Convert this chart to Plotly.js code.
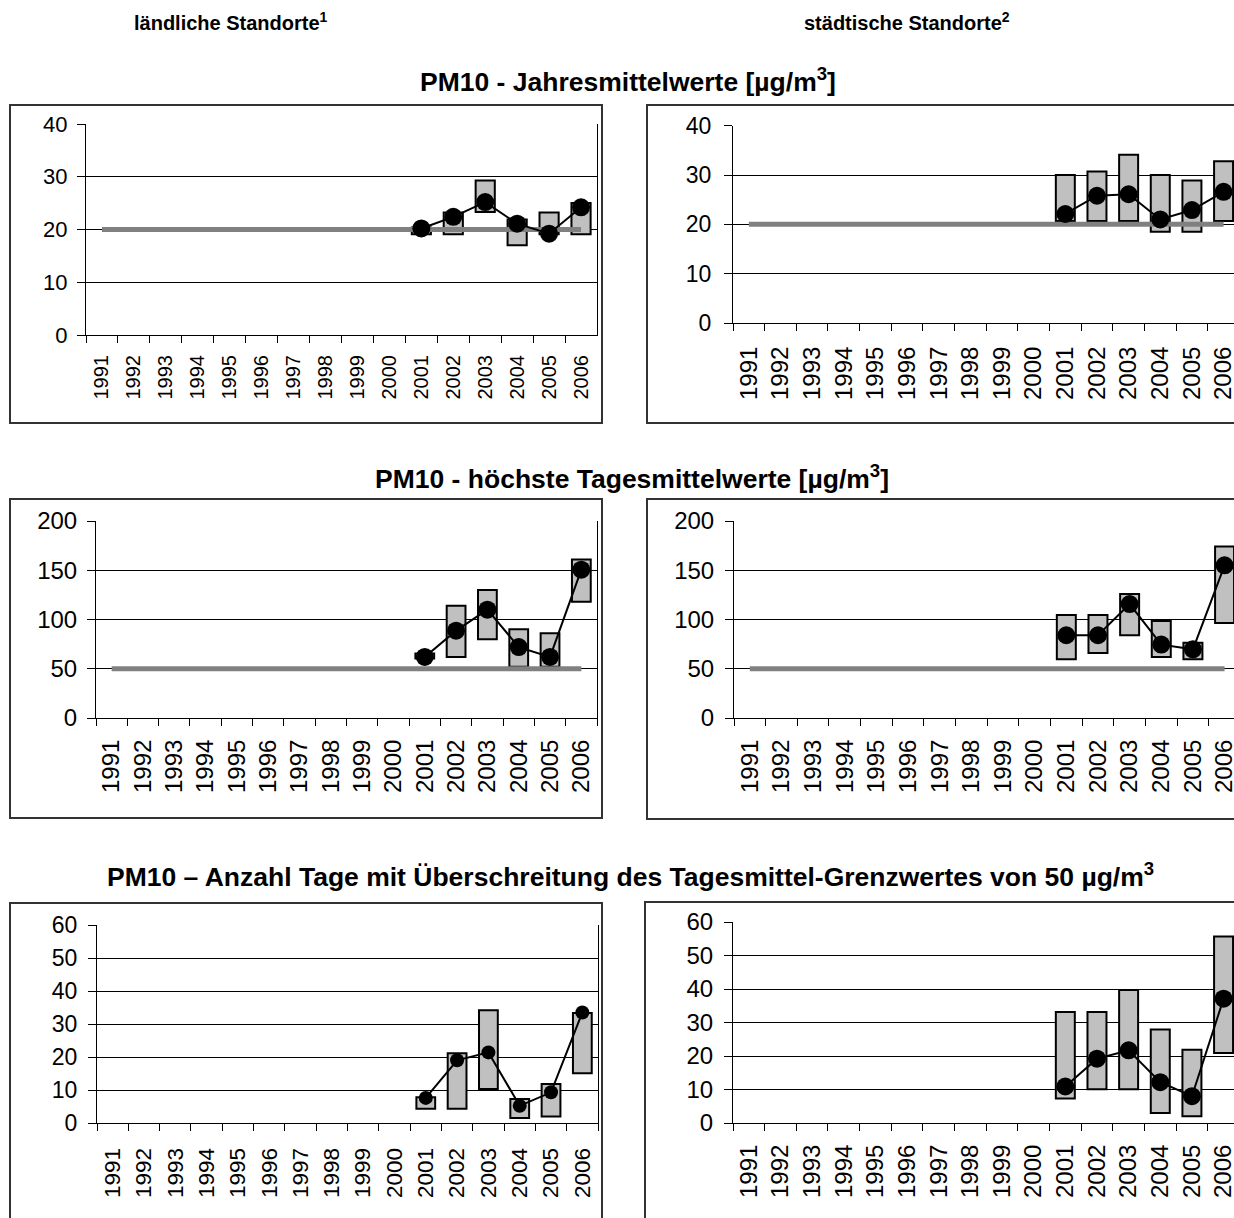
<!DOCTYPE html>
<html><head><meta charset="utf-8">
<script src="https://cdn.plot.ly/plotly-3.0.1.min.js"></script>
<style>html,body{margin:0;padding:0;background:#fff;}#chart{width:1234px;height:1218px;}</style>
</head><body><div id="chart"></div>
<script>
// ---- categories ----
const years = ['1991','1992','1993','1994','1995','1996','1997','1998','1999','2000','2001','2002','2003','2004','2005','2006'];
const dataYears = ['2001','2002','2003','2004','2005','2006'];

// ---- PM10 Jahresmittelwerte [µg/m³] ----
const ruralAnnualMin  = [19.1, 19.1, 23.3, 17.0, 19.1, 19.1];
const ruralAnnualMax  = [20.4, 23.2, 29.3, 21.9, 23.2, 25.0];
const ruralAnnualMean = [20.2, 22.4, 25.2, 21.1, 19.2, 24.2];
const urbanAnnualMin  = [20.7, 20.7, 20.7, 18.5, 18.5, 20.7];
const urbanAnnualMax  = [30.0, 30.7, 34.1, 30.0, 28.9, 32.8];
const urbanAnnualMean = [22.1, 25.8, 26.1, 21.0, 22.9, 26.6];
const annualLimit = 20;

// ---- PM10 höchste Tagesmittelwerte [µg/m³] ----
const ruralPeakMin  = [60.5, 62, 80, 52, 52, 118];
const ruralPeakMax  = [65.5, 114, 130, 90, 86, 161];
const ruralPeakMean = [62, 88.7, 110, 72, 62, 150.6];
const urbanPeakMin  = [59.6, 66, 84, 62, 59.6, 96.4];
const urbanPeakMax  = [104.6, 104.6, 126, 98.5, 76.5, 174];
const urbanPeakMean = [84, 84, 115.7, 74.5, 69.7, 155];
const dailyLimit = 50;

// ---- PM10 Anzahl Tage > 50 µg/m³ ----
const ruralDaysMin  = [4.3, 4.3, 10.3, 1.5, 2.0, 15.1];
const ruralDaysMax  = [7.8, 21.1, 34.2, 7.3, 11.8, 33.3];
const ruralDaysMean = [7.6, 19.0, 21.4, 5.2, 9.3, 33.5];
const urbanDaysMin  = [7.3, 10.1, 10.1, 3.0, 2.0, 20.9];
const urbanDaysMax  = [33.1, 33.1, 39.7, 27.9, 21.9, 55.7];
const urbanDaysMean = [10.9, 19.2, 21.7, 12.2, 8.0, 37.1];

// ---- text ----
const headerRural = 'ländliche Standorte<sup>1</sup>';
const headerUrban = 'städtische Standorte<sup>2</sup>';
const title1 = 'PM10 - Jahresmittelwerte [µg/m<sup>3</sup>]';
const title2 = 'PM10 - höchste Tagesmittelwerte [µg/m<sup>3</sup>]';
const title3 = 'PM10 – Anzahl Tage mit Überschreitung des Tagesmittel-Grenzwertes von 50 µg/m<sup>3</sup>';

// ---- layout geometry (pixels) ----
const W = 1234, H = 1218;
const FONT = 'Liberation Sans, Arial, Helvetica, sans-serif';
const px = v => v / W;
const py = v => 1 - v / H;

const panels = [
  {min: ruralAnnualMin, max: ruralAnnualMax, mean: ruralAnnualMean, limit: annualLimit, yr: [0, 40], dt: 10,
   frame: [10, 105, 602, 423], plot: [86, 124, 597, 335], right: false,
   fx: 20, fy: 22, sx: 11, sy: 5, ms: 18},
  {min: urbanAnnualMin, max: urbanAnnualMax, mean: urbanAnnualMean, limit: annualLimit, yr: [0, 40], dt: 10,
   frame: [647, 105, 1240, 423], plot: [733, 125.7, 1234, 323], right: true,
   fx: 24, fy: 23, sx: 13, sy: 8, ms: 18},
  {min: ruralPeakMin, max: ruralPeakMax, mean: ruralPeakMean, limit: dailyLimit, yr: [0, 200], dt: 50,
   frame: [10, 499, 602, 818], plot: [96, 521, 597, 718], right: false,
   fx: 24, fy: 24, sx: 11, sy: 5, ms: 18},
  {min: urbanPeakMin, max: urbanPeakMax, mean: urbanPeakMean, limit: dailyLimit, yr: [0, 200], dt: 50,
   frame: [647, 499, 1240, 819], plot: [734, 521, 1234, 718], right: true,
   fx: 24, fy: 24, sx: 11, sy: 6, ms: 18},
  {min: ruralDaysMin, max: ruralDaysMax, mean: ruralDaysMean, limit: null, yr: [0, 60], dt: 10,
   frame: [10, 903, 602, 1240], plot: [97, 925, 598, 1123], right: false,
   fx: 22.5, fy: 23, sx: 15, sy: 6, ms: 14},
  {min: urbanDaysMin, max: urbanDaysMax, mean: urbanDaysMean, limit: null, yr: [0, 60], dt: 10,
   frame: [645, 902, 1240, 1240], plot: [733, 922, 1234, 1123], right: true,
   fx: 24, fy: 24, sx: 11, sy: 6, ms: 18}
];

const traces = [];
const layout = {
  width: W, height: H,
  margin: {l: 0, r: 0, t: 0, b: 0},
  paper_bgcolor: '#fff', plot_bgcolor: '#fff',
  showlegend: false,
  font: {family: FONT, color: '#000'},
  shapes: [], annotations: []
};

panels.forEach((p, i) => {
  const n = i + 1;
  const xa = 'x' + (n === 1 ? '' : n), ya = 'y' + (n === 1 ? '' : n);
  const xkey = 'xaxis' + (n === 1 ? '' : n), ykey = 'yaxis' + (n === 1 ? '' : n);
  // category holder
  traces.push({type: 'scatter', x: years, y: years.map(() => null), xaxis: xa, yaxis: ya,
    mode: 'lines', hoverinfo: 'skip', showlegend: false});
  // floating min-max bars
  traces.push({type: 'bar', x: dataYears, base: p.min, y: p.max.map((v, k) => v - p.min[k]),
    xaxis: xa, yaxis: ya, width: 0.6,
    marker: {color: '#c0c0c0', line: {color: '#000', width: 2}}, hoverinfo: 'skip'});
  // limit line
  if (p.limit !== null) {
    traces.push({type: 'scatter', mode: 'lines', x: years, y: years.map(() => p.limit),
      xaxis: xa, yaxis: ya, line: {color: '#808080', width: 5}, hoverinfo: 'skip'});
  }
  // mean values
  traces.push({type: 'scatter', mode: 'lines+markers', x: dataYears, y: p.mean,
    xaxis: xa, yaxis: ya, line: {color: '#000', width: 2},
    marker: {color: '#000', size: p.ms}, hoverinfo: 'skip', cliponaxis: false});

  const plotW = p.plot[2] - p.plot[0];
  const catW = p.right ? 31.65 : plotW / 16;
  const xmax = -0.5 + plotW / catW;
  layout[xkey] = {
    domain: [px(p.plot[0]), px(p.plot[2])],
    anchor: ya, type: 'category', categoryorder: 'array', categoryarray: years,
    range: [-0.5, xmax], tickson: 'boundaries', ticks: 'outside', ticklen: 7, tickwidth: 1, tickcolor: '#000',
    showgrid: false, showline: true, linecolor: '#000', linewidth: 1, mirror: false,
    tickangle: -90, tickfont: {family: FONT, size: p.fx, color: '#000'}, ticklabelstandoff: p.sx,
    fixedrange: true, zeroline: false
  };
  layout[ykey] = {
    domain: [py(p.plot[3]), py(p.plot[1])],
    anchor: xa, range: p.yr, dtick: p.dt, tick0: 0,
    ticks: 'outside', ticklen: 8, tickwidth: 1, tickcolor: '#000',
    showgrid: true, gridcolor: '#000', gridwidth: 1,
    showline: true, linecolor: '#000', linewidth: 1, mirror: !p.right,
    tickfont: {family: FONT, size: p.fy, color: '#000'}, ticklabelstandoff: p.sy,
    fixedrange: true, zeroline: false
  };
  layout.shapes.push({type: 'rect', xref: 'paper', yref: 'paper',
    x0: px(p.frame[0]), x1: px(p.frame[2]), y0: py(p.frame[3]), y1: py(p.frame[1]),
    line: {color: '#333', width: 2}, fillcolor: 'rgba(0,0,0,0)', layer: 'below'});
});

function addTitle(text, xc, yc, size) {
  layout.annotations.push({text: '<b>' + text + '</b>', xref: 'paper', yref: 'paper',
    x: px(xc), y: py(yc), xanchor: 'center', yanchor: 'middle', showarrow: false,
    font: {family: FONT, size: size, color: '#000'}});
}
addTitle(headerRural, 231, 22, 20);
addTitle(headerUrban, 907, 22, 20);
addTitle(title1, 628, 80, 26.5);
addTitle(title2, 632, 477, 26.5);
addTitle(title3, 630, 875, 26.5);

Plotly.newPlot('chart', traces, layout, {staticPlot: true, displayModeBar: false});
</script></body></html>
